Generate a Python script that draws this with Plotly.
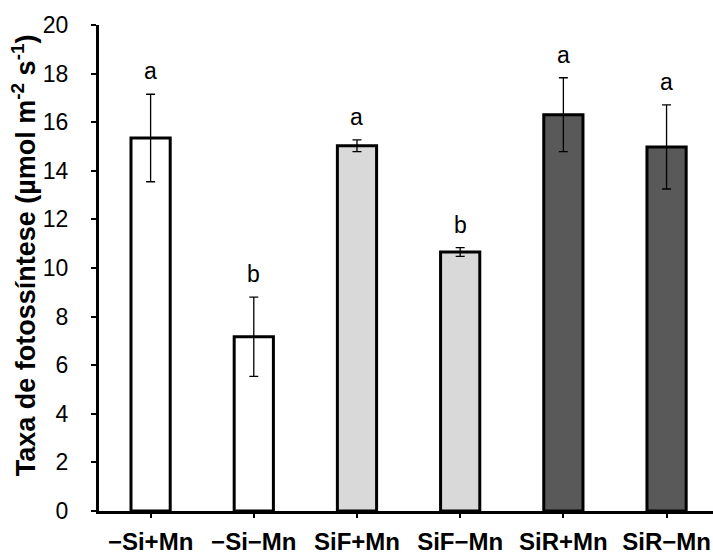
import plotly.graph_objects as go

categories = ["−Si+Mn", "−Si−Mn", "SiF+Mn", "SiF−Mn", "SiR+Mn", "SiR−Mn"]
means = [15.35, 7.17, 15.03, 10.66, 16.31, 14.98]
errors = [1.80, 1.63, 0.24, 0.18, 1.52, 1.73]
letters = ["a", "b", "a", "b", "a", "a"]
bar_colors = ["#FFFFFF", "#FFFFFF", "#D9D9D9", "#D9D9D9", "#595959", "#595959"]
y_ticks = [0, 2, 4, 6, 8, 10, 12, 14, 16, 18, 20]

FONT = "Liberation Sans, Arial, sans-serif"

fig = go.Figure()
fig.add_trace(go.Bar(
    x=categories,
    y=means,
    width=0.38,
    marker=dict(color=bar_colors, line=dict(color="black", width=3)),
    error_y=dict(type="data", array=errors, visible=True,
                 color="black", thickness=1.3, width=4.5),
    showlegend=False,
))

for c, m, e, l in zip(categories, means, errors, letters):
    fig.add_annotation(x=c, y=m + e, text=l, showarrow=False,
                       yanchor="middle", yshift=23,
                       font=dict(family=FONT, size=23, color="black"))

fig.add_annotation(
    xref="paper", yref="paper", x=-0.123, y=0.527,
    text="<b>Taxa de fotossíntese (µmol m<sup>-2</sup> s<sup>-1</sup>)</b>",
    textangle=-90, showarrow=False, xanchor="center", yanchor="middle",
    font=dict(family=FONT, size=27, color="black"))

fig.update_layout(
    width=713, height=554,
    margin=dict(l=99, r=0, t=25, b=43),
    paper_bgcolor="white", plot_bgcolor="white",
    xaxis=dict(
        range=[-0.5, 5.45],
        showline=True, linecolor="black", linewidth=3,
        ticks="outside", ticklen=4, tickwidth=2, tickcolor="black",
        tickfont=dict(family=FONT, size=24, color="black", weight="bold"),
        ticklabelstandoff=3,
        showgrid=False, zeroline=False,
    ),
    yaxis=dict(
        range=[0, 20], tickvals=y_ticks,
        showline=True, linecolor="black", linewidth=3,
        ticks="outside", ticklen=5, tickwidth=2, tickcolor="black",
        tickfont=dict(family=FONT, size=23, color="black"),
        ticklabelstandoff=18,
        showgrid=False, zeroline=False,
    ),
)

fig.write_html("out.html", config={"displayModeBar": False},
               post_script="document.body.style.margin='0px';")
